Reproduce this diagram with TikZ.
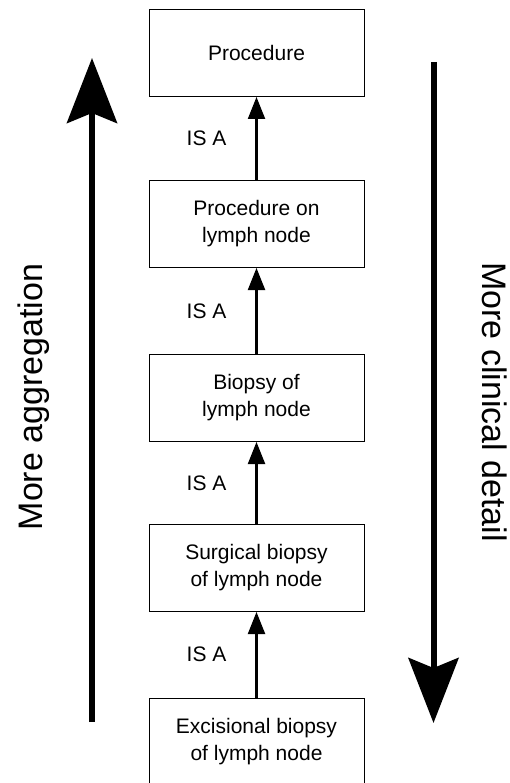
\documentclass[tikz,border=0pt]{standalone}
\usepackage{fontspec}
\setmainfont{Liberation Sans}
\usetikzlibrary{arrows.meta}

\tikzset{
  concept/.style={draw, line width=1pt, minimum width=215pt, minimum height=87pt,
    align=center, font=\fontsize{21}{27}\selectfont},
  isa/.style={-{Triangle[length=22pt,width=17pt]}, line width=2.2pt},
  isalabel/.style={left=29pt, inner sep=0pt, font=\fontsize{21}{24}\selectfont},
  trend/.style={-{Stealth[length=65pt,width=50pt,inset=10pt]}, line width=6pt},
  trendtext/.style={anchor=base, font=\fontsize{34}{40}\selectfont}
}

\begin{document}
\begin{tikzpicture}[x=1pt,y=-1pt]
\useasboundingbox (0,0) rectangle (509,783);

\node[concept] (proc) at (256.5,53) {Procedure};
\node[concept] (proclymph) at (256.5,224) {Procedure on\\lymph node};
\node[concept] (biopsy) at (256.5,398) {Biopsy of\\lymph node};
\node[concept] (surgical) at (256.5,568) {Surgical biopsy\\of lymph node};
\node[concept] (excisional) at (256.5,741.5) {Excisional biopsy\\of lymph node};

\draw [isa] (proclymph) -- node[isalabel] {IS A} (proc);
\draw [isa] (biopsy) -- node[isalabel] {IS A} (proclymph);
\draw [isa] (surgical) -- node[isalabel] {IS A} (biopsy);
\draw [isa] (excisional) -- node[isalabel] {IS A} (surgical);

% trend arrows at the sides
\coordinate (aggbottom) at (92,722);
\coordinate (aggtop) at (92,58);
\coordinate (dettop) at (433.5,62);
\coordinate (detbottom) at (433.5,723);
\draw [trend] (aggbottom) -- (aggtop);
\draw [trend] (dettop) -- (detbottom);

\node[trendtext, rotate=90] (agg) at (42,397) {More aggregation};
\node[trendtext, rotate=-90] (det) at (482,402) {More clinical detail};

\end{tikzpicture}
\end{document}
